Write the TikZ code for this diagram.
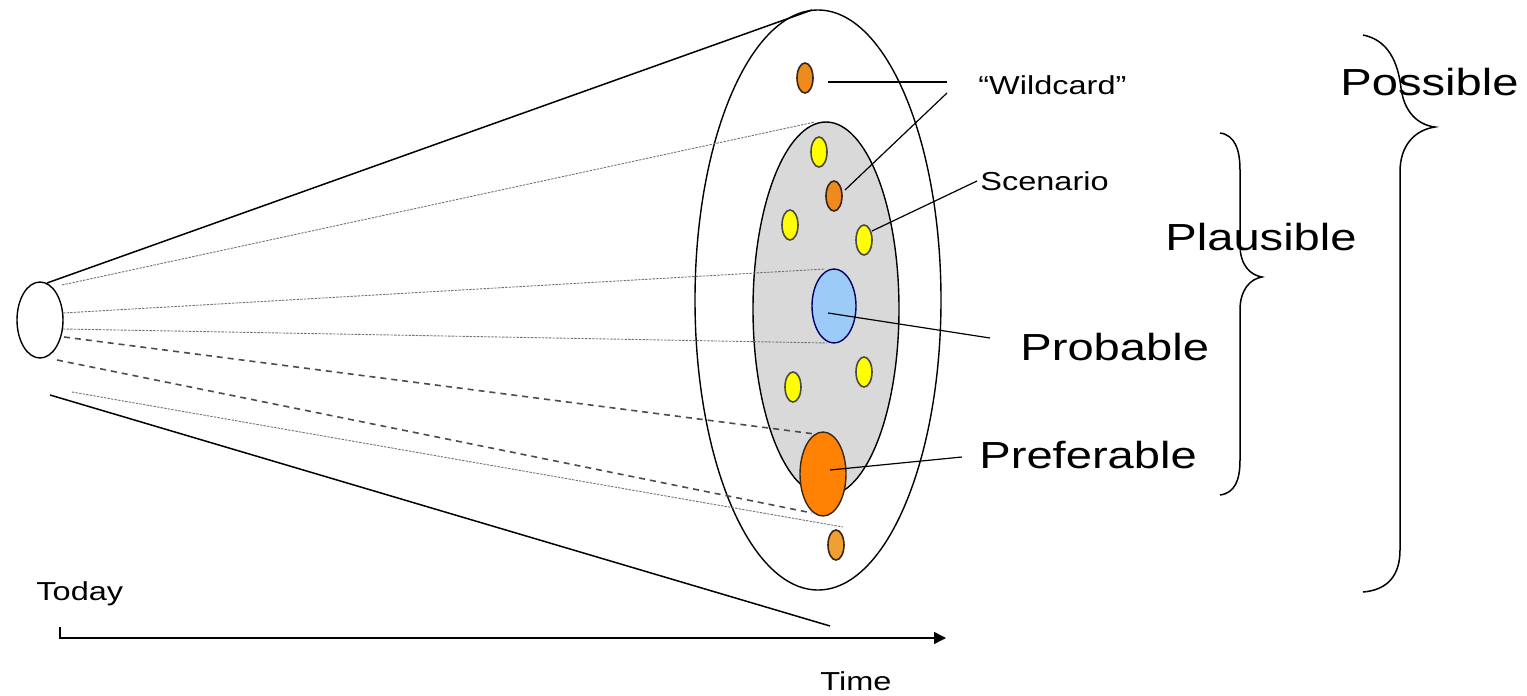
\documentclass[tikz,border=0pt]{standalone}
\usepackage{fontspec}
\newfontfamily\lbl[FakeStretch=1.25]{Liberation Sans}
\usetikzlibrary{shapes.geometric,arrows.meta}
\definecolor{wildor}{HTML}{EE8A1E}
\definecolor{prefor}{HTML}{FF8205}
\definecolor{lightor}{HTML}{F0A032}
\definecolor{yel}{HTML}{FFFF00}
\definecolor{blu}{HTML}{9CCBF8}
\definecolor{gry}{HTML}{D9D9D9}
\tikzset{
  ell/.style={ellipse, inner sep=0pt, draw=black, line width=0.7pt},
  dot/.style={ellipse, inner sep=0pt, minimum width=8pt, minimum height=15pt, line width=0.8pt},
  ydot/.style={dot, fill=yel, draw=black!80!yellow},
  odot/.style={dot, fill=wildor, draw=black!70!brown},
  fine/.style={draw=black!55, line width=0.45pt, dash pattern=on 1.2pt off 0.6pt},
  coarse/.style={draw=black!70, line width=0.8pt, dash pattern=on 3pt off 2.5pt},
  solidl/.style={draw=black, line width=0.75pt},
  conn/.style={draw=black, line width=0.6pt},
  big/.style={font=\lbl\fontsize{18.85}{20}\selectfont, inner sep=0pt, anchor=base west},
  small/.style={font=\lbl\fontsize{13}{15}\selectfont, inner sep=0pt, anchor=base west},
  brace/.style={draw=black, line width=0.75pt},
}
\begin{document}
\begin{tikzpicture}[x=0.5pt,y=-0.5pt]
\useasboundingbox (0,0) rectangle (1527,696);
% shapes
\node[ell, minimum width=23pt, minimum height=38pt] (today) at (40,320) {};
\node[ell, minimum width=123pt, minimum height=290pt] (outer) at (818,300) {};
\node[ell, fill=gry, minimum width=73pt, minimum height=187pt] (plaus) at (826,309) {};
% cone
\coordinate (ct1) at (47,283);
\coordinate (ct2) at (812,10);
\coordinate (cb1) at (50,395);
\coordinate (cb2) at (830,626);
\draw[solidl] (ct1) -- (ct2);
\draw[solidl] (cb1) -- (cb2);
% dashed rays
\coordinate (r1a) at (62,285);  \coordinate (r1b) at (815,122);
\coordinate (r2a) at (63,313);  \coordinate (r2b) at (825,269);
\coordinate (r3a) at (63,329);  \coordinate (r3b) at (827,343);
\coordinate (r4a) at (64,337);  \coordinate (r4b) at (815,434);
\coordinate (r5a) at (57,360);  \coordinate (r5b) at (812,513);
\coordinate (r6a) at (72,392);  \coordinate (r6b) at (843,527);
\draw[fine] (r1a) -- (r1b);
\draw[fine] (r2a) -- (r2b);
\draw[fine] (r3a) -- (r3b);
\draw[coarse] (r4a) -- (r4b);
\draw[coarse] (r5a) -- (r5b);
\draw[fine] (r6a) -- (r6b);
% futures
\node[ell, fill=blu, draw=black!60!blue, minimum width=22pt, minimum height=37pt] (prob) at (834,306) {};
\node[ell, fill=prefor, draw=black!70!brown, minimum width=23pt, minimum height=42pt] (pref) at (823,474) {};
\node[odot] (w1) at (805,78) {};
\node[ydot] (y1) at (819,152) {};
\node[odot] (w2) at (834,196) {};
\node[ydot] (y2) at (790,225) {};
\node[ydot] (y3) at (864,240) {};
\node[ydot] (y4) at (793,387) {};
\node[ydot] (y5) at (864,372) {};
\node[dot, fill=lightor, draw=black!70!brown] (w3) at (836,545) {};
% labels
\node[small] (wild) at (978,94) {“Wildcard”};
\node[small] (scen) at (980,190) {Scenario};
\node[big] (probl) at (1020,360) {Probable};
\node[big] (prefl) at (979,468) {Preferable};
\node[big] (plausl) at (1165,250) {Plausible};
\node[big] (possl) at (1340,95) {Possible};
\node[small] (todayl) at (36,600) {Today};
\node[small] (timel) at (820,690) {Time};
% connectors
\coordinate (wcA) at (828,82);
\coordinate (wcB) at (947,82);
\coordinate (wcC) at (947,93);
\coordinate (wcD) at (845,190);
\draw[conn] (wcA) -- (wcB);
\draw[conn] (wcC) -- (wcD);
\coordinate (scA) at (977,181);
\coordinate (scB) at (872,231);
\draw[conn] (scA) -- (scB);
\coordinate (pbA) at (828,313);
\coordinate (pbB) at (990,338);
\draw[conn] (pbA) -- (pbB);
\coordinate (pfA) at (830,470);
\coordinate (pfB) at (962,457);
\draw[conn] (pfA) -- (pfB);
% braces
\draw[brace] (1220,133) .. controls (1235,135) and (1240,150) .. (1240,170) -- (1240,245)
  .. controls (1240,265) and (1250,275) .. (1262,277)
  .. controls (1250,279) and (1240,290) .. (1240,310) -- (1240,460)
  .. controls (1240,480) and (1235,493) .. (1220,495);
\draw[brace] (1363,35) .. controls (1388,40) and (1398,62) .. (1401,88)
  .. controls (1404,112) and (1418,125) .. (1435,127)
  .. controls (1415,130) and (1400,145) .. (1400,172) -- (1400,550)
  .. controls (1400,575) and (1388,590) .. (1363,592);
% time axis
\coordinate (ax0) at (60,627);
\coordinate (ax1) at (60,638);
\coordinate (ax2) at (946,638);
\draw[line width=0.75pt, -{Triangle[length=6pt,width=6pt]}] (ax0) -- (ax1) -- (ax2);
\end{tikzpicture}
\end{document}
